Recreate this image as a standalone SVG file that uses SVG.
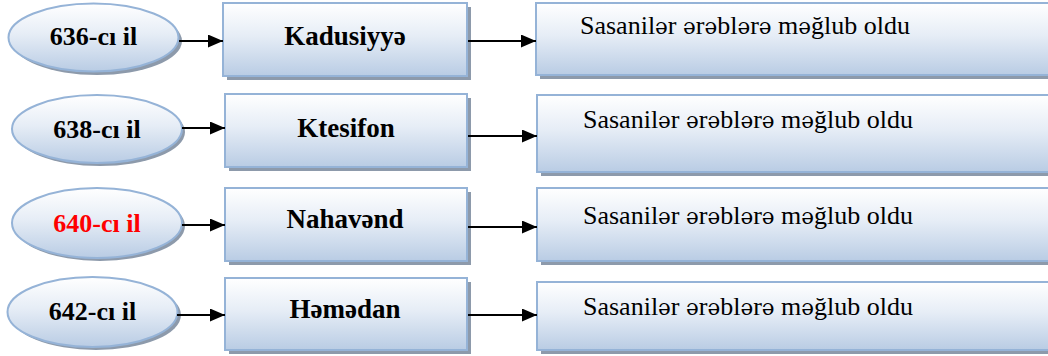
<svg xmlns="http://www.w3.org/2000/svg" width="1048" height="356" viewBox="0 0 1048 356">
<defs>
<linearGradient id="g" x1="0" y1="0" x2="0" y2="1">
<stop offset="0" stop-color="#ffffff"/>
<stop offset="0.45" stop-color="#e6edf6"/>
<stop offset="1" stop-color="#b9cce4"/>
</linearGradient>
<marker id="ah" markerWidth="15" markerHeight="13" refX="15" refY="6.5" orient="auto" markerUnits="userSpaceOnUse">
<path d="M0,0 L15,6.5 L0,13 Z" fill="#000"/>
</marker>
<style>
.sh{fill:#8d9aab;}
.bx{fill:url(#g);stroke:#95b3d7;stroke-width:2;}
.yr{font-family:"Liberation Serif","Times New Roman",serif;font-weight:bold;font-size:26px;text-anchor:middle;fill:#000;}
.red{fill:#ff0000;}
.pl{font-family:"Liberation Serif","Times New Roman",serif;font-weight:bold;font-size:27px;text-anchor:middle;fill:#000;}
.rs{font-family:"Liberation Serif","Times New Roman",serif;font-size:26px;fill:#000;}
.sw{font-family:"DejaVu Serif","Liberation Serif",serif;font-size:21.5px;}
.ar{stroke:#000;stroke-width:2;fill:none;marker-end:url(#ah);}
</style>
</defs>
<rect width="1048" height="356" fill="#fff"/>

<g id="year636">
<ellipse class="sh" cx="97" cy="41" rx="85" ry="34"/>
<ellipse class="bx" cx="93.5" cy="37.5" rx="85" ry="34"/>
<text class="yr" x="93.5" y="45">636-cı il</text>
</g>
<g id="year638">
<ellipse class="sh" cx="100" cy="132" rx="85" ry="34"/>
<ellipse class="bx" cx="97" cy="129" rx="85" ry="34"/>
<text class="yr" x="97" y="138">638-cı il</text>
</g>
<g id="year640">
<ellipse class="sh" cx="100" cy="226" rx="85" ry="35"/>
<ellipse class="bx" cx="97" cy="223" rx="85" ry="35"/>
<text class="yr red" x="97" y="232">640-cı il</text>
</g>
<g id="year642">
<ellipse class="sh" cx="96" cy="315" rx="85" ry="35"/>
<ellipse class="bx" cx="92.5" cy="312" rx="85" ry="35"/>
<text class="yr" x="92.5" y="320">642-cı il</text>
</g>

<g id="kadusiyye">
<rect class="sh" x="227" y="7" width="244" height="73"/>
<rect class="bx" x="223" y="3" width="244" height="73"/>
<text class="pl" x="345" y="45">Kadusiyyə</text>
</g>
<g id="ktesifon">
<rect class="sh" x="229" y="98" width="242" height="73"/>
<rect class="bx" x="225" y="94" width="242" height="73"/>
<text class="pl" x="346" y="137">Ktesifon</text>
</g>
<g id="nahavend">
<rect class="sh" x="229" y="192" width="242" height="73"/>
<rect class="bx" x="225" y="188" width="242" height="73"/>
<text class="pl" x="345" y="228">Nahavənd</text>
</g>
<g id="hemedan">
<rect class="sh" x="229" y="282" width="242" height="72"/>
<rect class="bx" x="225" y="278" width="242" height="72"/>
<text class="pl" x="345" y="318">Həmədan</text>
</g>

<g id="result1">
<rect class="sh" x="540" y="7" width="520" height="72"/>
<rect class="bx" x="536" y="3" width="520" height="72"/>
<text class="rs" x="580" y="34">Sasanil<tspan class="sw">ə</tspan>r <tspan class="sw">ə</tspan>r<tspan class="sw">ə</tspan>bl<tspan class="sw">ə</tspan>r<tspan class="sw">ə</tspan> m<tspan class="sw">ə</tspan>ğlub oldu</text>
</g>
<g id="result2">
<rect class="sh" x="541" y="99" width="520" height="77"/>
<rect class="bx" x="537" y="95" width="520" height="77"/>
<text class="rs" x="583" y="128">Sasanil<tspan class="sw">ə</tspan>r <tspan class="sw">ə</tspan>r<tspan class="sw">ə</tspan>bl<tspan class="sw">ə</tspan>r<tspan class="sw">ə</tspan> m<tspan class="sw">ə</tspan>ğlub oldu</text>
</g>
<g id="result3">
<rect class="sh" x="541" y="192" width="520" height="73"/>
<rect class="bx" x="537" y="188" width="520" height="73"/>
<text class="rs" x="583" y="224">Sasanil<tspan class="sw">ə</tspan>r <tspan class="sw">ə</tspan>r<tspan class="sw">ə</tspan>bl<tspan class="sw">ə</tspan>r<tspan class="sw">ə</tspan> m<tspan class="sw">ə</tspan>ğlub oldu</text>
</g>
<g id="result4">
<rect class="sh" x="541" y="286" width="520" height="68"/>
<rect class="bx" x="537" y="282" width="520" height="68"/>
<text class="rs" x="583" y="315">Sasanil<tspan class="sw">ə</tspan>r <tspan class="sw">ə</tspan>r<tspan class="sw">ə</tspan>bl<tspan class="sw">ə</tspan>r<tspan class="sw">ə</tspan> m<tspan class="sw">ə</tspan>ğlub oldu</text>
</g>

<g id="connectors">
<line class="ar" x1="179" y1="41" x2="223" y2="41"/>
<line class="ar" x1="468" y1="41" x2="536" y2="41"/>
<line class="ar" x1="182" y1="128" x2="225" y2="128"/>
<line class="ar" x1="468" y1="136" x2="537" y2="136"/>
<line class="ar" x1="182" y1="225" x2="225" y2="225"/>
<line class="ar" x1="468" y1="227" x2="537" y2="227"/>
<line class="ar" x1="177" y1="315" x2="225" y2="315"/>
<line class="ar" x1="468" y1="315" x2="537" y2="315"/>
</g>
</svg>
